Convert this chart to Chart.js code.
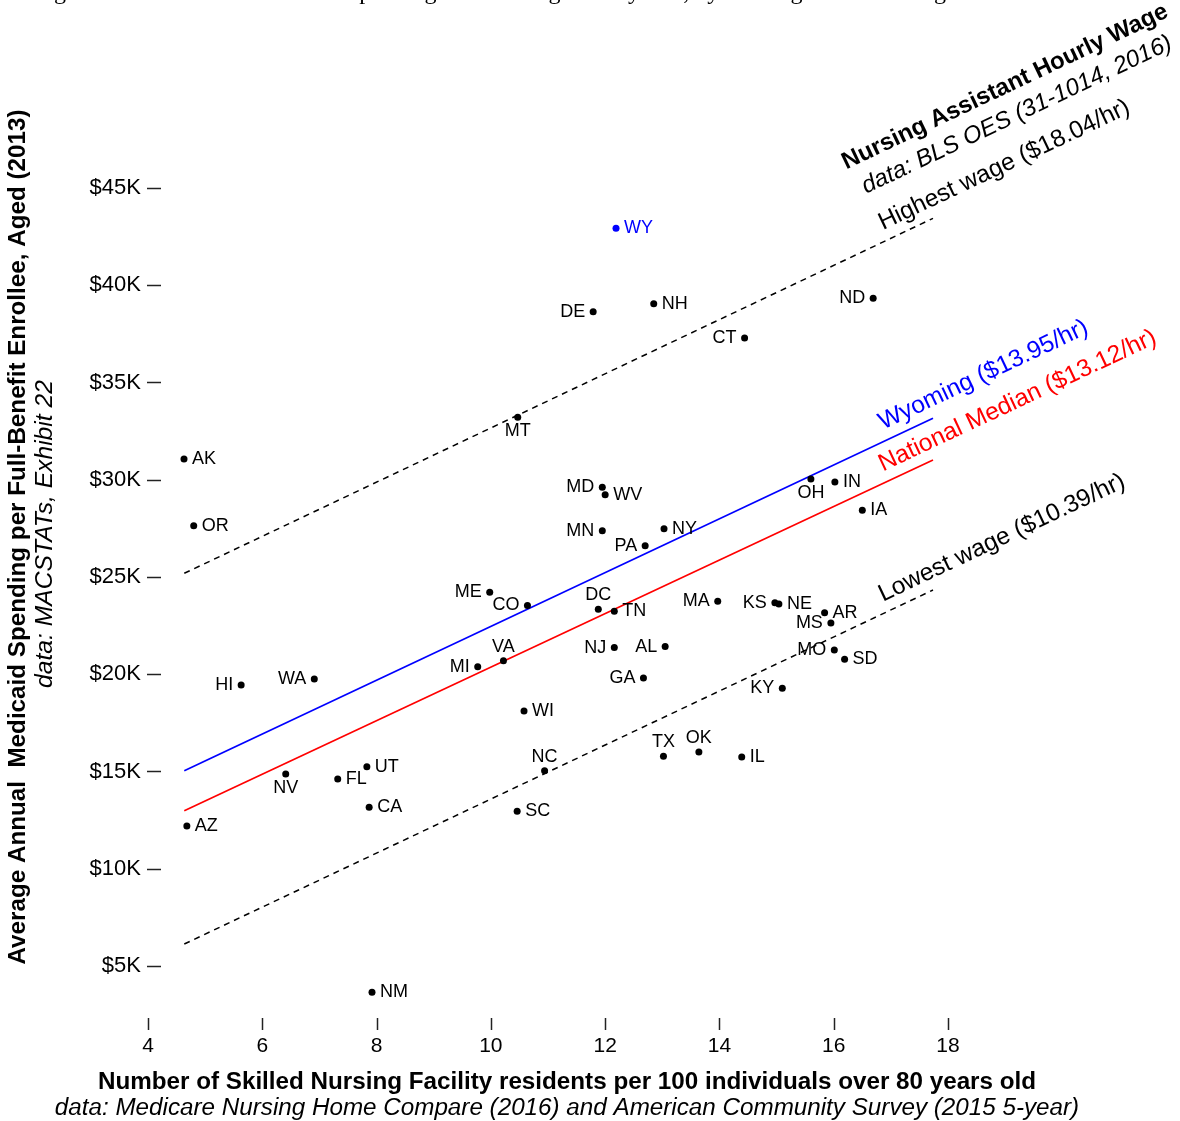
<!DOCTYPE html>
<html><head><meta charset="utf-8">
<script src="https://cdn.jsdelivr.net/npm/chart.js@4.4.0/dist/chart.umd.min.js"></script>
<style>html,body{margin:0;padding:0;background:#fff;overflow:hidden}#wrap{width:1180px;height:1121px;position:relative}</style>
</head><body><div id="wrap"><canvas id="c" width="1180" height="1121"></canvas></div>
<script>
// ---- data ----
const states   = ["AK","OR","HI","WA","AZ","NV","FL","UT","CA","NM","ME","CO","MI","VA","WI","NC","SC","MT","WY","DE","NH","CT","ND","MD","WV","MN","NY","PA","OH","IN","IA","DC","TN","MA","KS","NE","AR","MS","MO","SD","NJ","AL","GA","KY","TX","OK","IL"];
const snfRate  = [4.63,4.80,5.63,6.91,4.68,6.41,7.32,7.83,7.87,7.92,9.98,10.64,9.77,10.22,10.58,10.94,10.46,10.47,12.19,11.79,12.85,14.44,16.69,11.95,12.00,11.95,13.03,12.70,15.60,16.02,16.50,11.88,12.16,13.97,14.97,15.04,15.84,15.95,16.01,16.19,12.16,13.05,12.67,15.10,13.02,13.64,14.39];
const spending = [31.07,27.64,19.45,19.76,12.20,14.87,14.61,15.25,13.16,3.65,24.21,23.54,20.39,20.70,18.11,15.04,12.95,33.21,42.93,38.64,39.05,37.29,39.33,29.61,29.23,27.38,27.48,26.61,30.04,29.89,28.43,23.34,23.24,23.75,23.68,23.61,23.16,22.63,21.25,20.77,21.37,21.42,19.81,19.28,15.78,16.00,15.75];
const labelPos = ["r","r","l","l","r","b","r","r","r","r","l","l","l","a","r","a","r","b","r","l","r","l","l","l","r","l","r","l","b","r","r","a","r","l","l","r","r","l","l","r","l","l","l","l","a","a","r"];
const xTicks = [4,6,8,10,12,14,16,18];
const yTicks = [5,10,15,20,25,30,35,40,45];
const lineX        = [4.635, 17.737];
const highestWage  = [25.19, 43.44];
const wyomingWage  = [15.04, 33.16];
const nationalWage = [12.98, 31.02];
const lowestWage   = [6.13, 24.33];
const lineLabels = ["Highest wage ($18.04/hr)","Wyoming ($13.95/hr)","National Median ($13.12/hr)","Lowest wage ($10.39/hr)"];

const SANS = '"Liberation Sans", Arial, Helvetica, sans-serif';
const BLUE = '#0000FF', RED = '#FF0000';

function fitFont(ctx, text, style, target){
  ctx.font = style + ' 20px ' + SANS;
  const w = ctx.measureText(text).width;
  return style + ' ' + (20*target/w).toFixed(2) + 'px ' + SANS;
}

const annot = {
  id:'annot',
  afterDraw(chart){
    const ctx = chart.ctx, xs = chart.scales.x, ys = chart.scales.y;
    const ca = chart.chartArea;
    ctx.save();
    // tick marks (inward)
    ctx.strokeStyle = '#222'; ctx.lineWidth = 1.5;
    yTicks.forEach(v=>{ const p = Math.round(ys.getPixelForValue(v))+0.5;
      ctx.beginPath(); ctx.moveTo(ca.left-1, p); ctx.lineTo(ca.left+13, p); ctx.stroke(); });
    xTicks.forEach(v=>{ const p = Math.round(xs.getPixelForValue(v))+0.5;
      ctx.beginPath(); ctx.moveTo(p, ca.bottom); ctx.lineTo(p, ca.bottom-12); ctx.stroke(); });

    // state labels
    const meta = chart.getDatasetMeta(0);
    ctx.font = '18px ' + SANS; ctx.textBaseline = 'middle';
    meta.data.forEach((pt,i)=>{
      ctx.fillStyle = states[i]==='WY' ? BLUE : '#000';
      const x = pt.x, y = pt.y, p = labelPos[i];
      if (p==='r'){ ctx.textAlign='left'; ctx.fillText(states[i], x+8, y); }
      else if (p==='l'){ ctx.textAlign='right'; ctx.fillText(states[i], x-8, y); }
      else if (p==='a'){ ctx.textAlign='center'; ctx.fillText(states[i], x, y-14); }
      else { ctx.textAlign='center'; ctx.fillText(states[i], x, y+14); }
    });

    // rotated wage labels
    const series = [highestWage, wyomingWage, nationalWage, lowestWage];
    const cols = ['#000', BLUE, RED, '#000'];
    const xa = 16.86;
    series.forEach((s,k)=>{
      const x0 = xs.getPixelForValue(lineX[0]), x1 = xs.getPixelForValue(lineX[1]);
      const y0 = ys.getPixelForValue(s[0]), y1 = ys.getPixelForValue(s[1]);
      const ang = Math.atan2(y1-y0, x1-x0);
      const v = s[0] + (xa-lineX[0])*(s[1]-s[0])/(lineX[1]-lineX[0]);
      ctx.save();
      ctx.translate(xs.getPixelForValue(xa), ys.getPixelForValue(v)-12);
      ctx.rotate(ang);
      ctx.font = '24.5px ' + SANS; ctx.fillStyle = cols[k];
      ctx.textAlign='left'; ctx.textBaseline='alphabetic';
      ctx.fillText(lineLabels[k], 0, 0);
      ctx.restore();
    });
    // legend heading
    {
      const x0 = xs.getPixelForValue(lineX[0]), x1 = xs.getPixelForValue(lineX[1]);
      const y0 = ys.getPixelForValue(highestWage[0]), y1 = ys.getPixelForValue(highestWage[1]);
      const ang = Math.atan2(y1-y0, x1-x0);
      ctx.save();
      ctx.translate(xs.getPixelForValue(16.22), ys.getPixelForValue(45.95)); ctx.rotate(ang);
      ctx.font = 'bold 24px ' + SANS; ctx.fillStyle='#000'; ctx.textAlign='left'; ctx.textBaseline='alphabetic';
      ctx.fillText('Nursing Assistant Hourly Wage', 0, 0);
      ctx.restore();
      ctx.save();
      ctx.translate(xs.getPixelForValue(16.565), ys.getPixelForValue(44.70)); ctx.rotate(ang);
      ctx.font = 'italic 24px ' + SANS; ctx.fillStyle='#000'; ctx.textAlign='left'; ctx.textBaseline='alphabetic';
      ctx.fillText('data: BLS OES (31-1014, 2016)', 0, 0);
      ctx.restore();
    }

    // axis titles
    ctx.fillStyle='#000'; ctx.textAlign='center'; ctx.textBaseline='middle';
    const xt = 'Number of Skilled Nursing Facility residents per 100 individuals over 80 years old';
    ctx.font = fitFont(ctx, xt, 'bold', 938); ctx.fillText(xt, 567, 1082);
    const xs2 = 'data: Medicare Nursing Home Compare (2016) and American Community Survey (2015 5-year)';
    ctx.font = fitFont(ctx, xs2, 'italic', 1025); ctx.fillText(xs2, 567, 1108);
    ctx.save(); ctx.translate(18, 537); ctx.rotate(-Math.PI/2);
    const yt = 'Average Annual  Medicaid Spending per Full-Benefit Enrollee, Aged (2013)';
    ctx.font = fitFont(ctx, yt, 'bold', 855); ctx.fillText(yt, 0, 0);
    ctx.restore();
    ctx.save(); ctx.translate(45, 534); ctx.rotate(-Math.PI/2);
    const ys2 = 'data: MACSTATs, Exhibit 22';
    ctx.font = fitFont(ctx, ys2, 'italic', 308); ctx.fillText(ys2, 0, 0);
    ctx.restore();

    // clipped page title at the very top
    ctx.font = '24px "Liberation Serif", "Times New Roman", serif';
    ctx.textAlign='left'; ctx.textBaseline='alphabetic'; ctx.fillStyle='#000';
    ctx.fillText('Figure 2: Medicaid Institutional Spending and Nursing Facility Use, by Nursing Assistant Wage', 34, -1);
    ctx.restore();
  }
};

const mkLine = (vals, color, dash, w) => ({
  type:'line', data: lineX.map((x,i)=>({x, y: vals[i]})),
  borderColor: color, borderWidth: w, borderDash: dash, pointRadius: 0, showLine: true, fill:false, clip:false, tension:0
});

new Chart(document.getElementById('c'), {
  type:'scatter',
  data:{ datasets:[
    { data: states.map((s,i)=>({x:snfRate[i], y:spending[i]})),
      pointRadius: 3.5, pointHoverRadius:3.5, borderWidth:0,
      backgroundColor: states.map(s => s==='WY' ? BLUE : '#000'), clip:false },
    mkLine(highestWage, '#000', [6,5], 1.5),
    mkLine(wyomingWage, BLUE, [], 1.7),
    mkLine(nationalWage, RED, [], 1.7),
    mkLine(lowestWage, '#000', [6,5], 1.5)
  ]},
  options:{
    responsive:false, animation:false, devicePixelRatio:1,
    layout:{ padding:{ top:149, right:203, left:0, bottom:0 } },
    plugins:{ legend:{display:false}, title:{display:false}, tooltip:{enabled:false} },
    scales:{
      x:{ type:'linear', min:4, max:18.507,
        afterFit: s => { s.height = 91; },
        afterBuildTicks: s => { s.ticks = xTicks.map(v=>({value:v})); },
        grid:{ display:false, drawTicks:false }, border:{ display:false },
        ticks:{ color:'#000', font:{ family: SANS, size:21 }, padding:4, maxRotation:0, autoSkip:false }
      },
      y:{ type:'linear', min:1.709, max:47.005,
        afterFit: s => { s.width = 148; },
        afterBuildTicks: s => { s.ticks = yTicks.map(v=>({value:v})); },
        grid:{ display:false, drawTicks:false }, border:{ display:false },
        ticks:{ color:'#000', font:{ family: SANS, size:22 }, padding:7, callback: v => '$' + v + 'K' }
      }
    }
  },
  plugins:[annot]
});
</script></body></html>
